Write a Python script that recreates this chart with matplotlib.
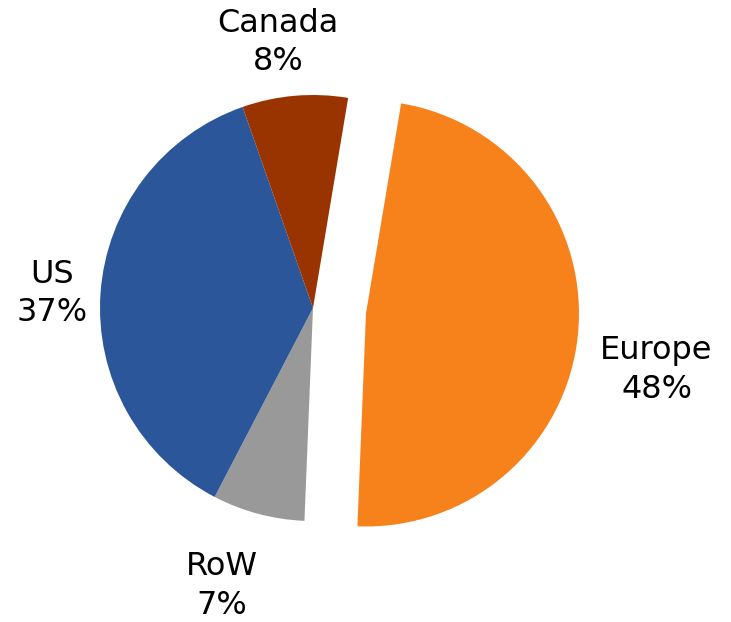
import numpy as np
import matplotlib
matplotlib.use("Agg")
import matplotlib.pyplot as plt

# Share by region (percent), clockwise from the top
regions = ["Europe", "RoW", "US", "Canada"]
shares = [48, 7, 37, 8]
colors = ["#F7811A", "#999999", "#2B579A", "#993300"]
explode = [0.25, 0, 0, 0]

# Label placement relative to each wedge's own centre:
# distance in pie radii, and angular nudge (degrees) from the wedge's mid-angle
label_dist = [1.39, 1.373, 1.227, 1.257]
label_nudge = [-5.1, -3.2, 1.0, 2.6]

fig = plt.figure(figsize=(7.31, 6.22), dpi=100)
ax = fig.add_axes([0, 0, 1, 1])

wedges, _ = ax.pie(shares, colors=colors, explode=explode, startangle=80.5,
                   counterclock=False, radius=1.0,
                   wedgeprops=dict(linewidth=0))

for w, name, pct, d, nudge in zip(wedges, regions, shares, label_dist, label_nudge):
    mid = np.deg2rad((w.theta1 + w.theta2) / 2 + nudge)
    cx, cy = w.center
    ax.text(cx + d * np.cos(mid), cy + d * np.sin(mid), f"{name}\n{pct}%",
            ha="center", va="center", fontsize=23, color="black",
            linespacing=1.3, family="DejaVu Sans")

ax.set_xlim(-313 / 213, (731 - 313) / 213)
ax.set_ylim(-(622 - 308) / 213, 308 / 213)
ax.set_aspect("auto")
ax.axis("off")

fig.savefig("out.png", dpi=100)
